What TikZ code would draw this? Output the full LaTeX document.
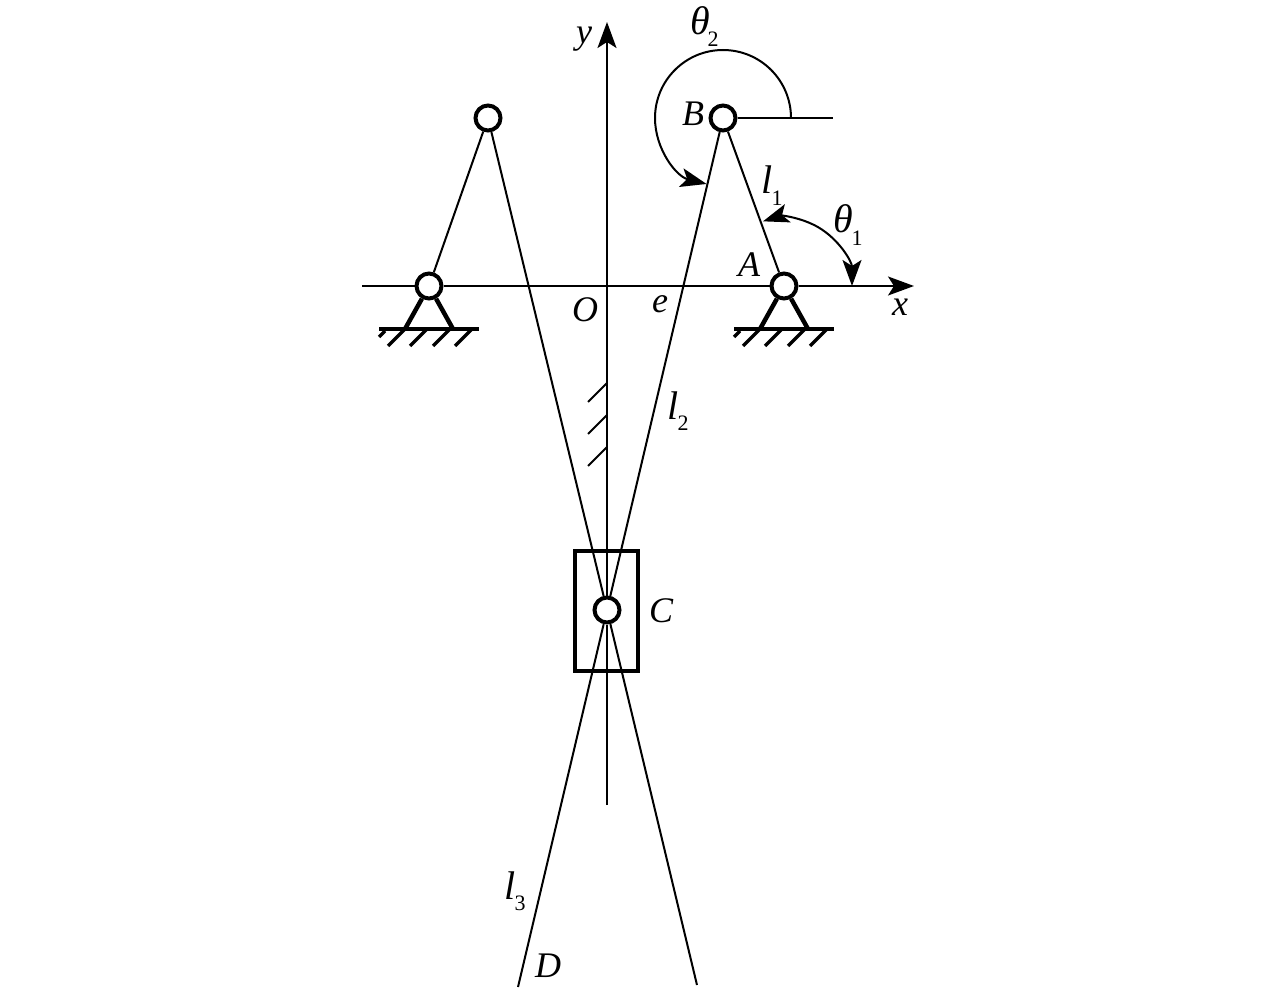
\documentclass[tikz,border=0pt]{standalone}
\usepackage{fontspec}
\setmainfont{Liberation Serif}
\usetikzlibrary{arrows.meta}
\begin{document}
\begin{tikzpicture}[x=1pt,y=1pt,
      every node/.style={inner sep=0pt,font=\fontsize{36}{36}\selectfont\itshape},
      joint/.style={draw,circle,fill=white,minimum width=25pt,line width=4pt},
      slider/.style={draw,rectangle,minimum width=63pt,minimum height=120pt,line width=4pt},
      angmark/.style={font=\fontsize{40}{40}\selectfont\itshape},
      idx/.style={font=\fontsize{22}{22}\selectfont},
      rod/.style={line width=2pt},
      tip/.style={>={Stealth[length=26pt,width=19pt,inset=6pt]}},
      base/.style={line width=4.5pt},
      hatch/.style={line width=3.5pt}]
  \useasboundingbox (0,0) rectangle (1276,-992);
  % joints
  \node[joint] (A) at (784,-286) {};
  \node[joint] (B) at (723,-118) {};
  \node[joint] (C) at (607,-610) {};
  \node[joint] (Al) at (429,-286) {};
  \node[joint] (Bl) at (488,-118) {};
  \node[slider] (box) at (606.5,-611) {};
  \coordinate (xl) at (362,-286);
  \coordinate (xr) at (914,-286);
  \coordinate (yb) at (607,-805);
  \coordinate (yt) at (607,-22);
  \coordinate (Bh) at (833,-118);
  \coordinate (D) at (518,-987);
  \coordinate (Dl) at (697,-985);
  % axes
  \draw[rod] (xl) -- (Al);
  \draw[rod] (Al) -- (A);
  \draw[rod,tip,->] (A) -- (xr);
  \draw[rod] (yb) -- (C);
  \draw[rod,tip,->] (C) -- (yt);
  % links
  \draw[rod] (A) -- (B);
  \draw[rod] (B) -- (Bh);
  \draw[rod] (B) -- (C);
  \draw[rod] (C) -- (D);
  \draw[rod] (Al) -- (Bl);
  \draw[rod] (Bl) -- (C);
  \draw[rod] (C) -- (Dl);
  % supports
  \foreach \p in {A,Al} {
    \draw[base] ([shift={(-50,-43)}]\p.center) -- ([shift={(50,-43)}]\p.center);
    \draw[base] (\p) -- ([shift={(-24,-43)}]\p.center);
    \draw[base] (\p) -- ([shift={(24,-43)}]\p.center);
    \foreach \s in {-24,-2,21,43}
      \draw[hatch] ([shift={(\s,-43)}]\p.center) -- ++(-17,-17);
    \draw[hatch] ([shift={(-44,-45)}]\p.center) -- ++(-6,-6);
  }
  % guide hatching
  \foreach \h in {-383,-415,-447}
    \draw[rod] (607,\h) -- ++(-19,-19);
  % angles
  \draw[rod,tip,->] ([shift={(0:68pt)}]B.center) arc[start angle=0,end angle=256,radius=68pt];
  \draw[rod,tip,<->] ([shift={(0:68pt)}]A.center) arc[start angle=0,end angle=108,radius=68pt];
  % labels
  \node (ylab) at (584,-39) {y};
  \node (xlab) at (900,-307) {x};
  \node (Blab) at (693,-114) {B};
  \node (Alab) at (749,-265) {A};
  \node (Olab) at (585,-310) {O};
  \node (elab) at (660,-304) {e};
  \node (Clab) at (661,-611) {C};
  \node (Dlab) at (548,-966) {D};
  \node[angmark] (th2) at (700,-21) {θ};
  \node[idx] (th2i) at (713,-39) {2};
  \node[angmark] (th1) at (843,-219) {θ};
  \node[idx] (th1i) at (857,-238) {1};
  \node[angmark] (l1) at (767,-180) {l};
  \node[idx] (l1i) at (777,-198) {1};
  \node[angmark] (l2) at (673,-406) {l};
  \node[idx] (l2i) at (683,-423) {2};
  \node[angmark] (l3) at (510,-886) {l};
  \node[idx] (l3i) at (520,-903) {3};
\end{tikzpicture}
\end{document}
